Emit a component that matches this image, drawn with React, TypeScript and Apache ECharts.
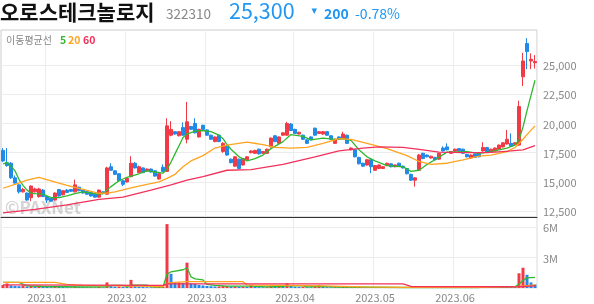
import React, { useEffect, useRef } from 'react';
import * as echarts from 'echarts';

// trading days per month (categories)
const monthDays: [string, number[]][] = [
  ['2022-12', [15, 16, 19, 20, 21, 22, 23, 26, 27, 28, 29]],
  ['2023-01', [2, 3, 4, 5, 6, 9, 10, 11, 12, 13, 16, 17, 18, 19, 20, 25, 26, 27, 30, 31]],
  ['2023-02', [1, 2, 3, 6, 7, 8, 9, 10, 13, 14, 15, 16, 17, 20, 21, 22, 23, 24, 27, 28]],
  ['2023-03', [2, 3, 6, 7, 8, 9, 10, 13, 14, 15, 16, 17, 20, 21, 22, 23, 24, 27, 28, 29, 30, 31]],
  ['2023-04', [3, 4, 5, 6, 7, 10, 11, 12, 13, 14, 17, 18, 19, 20, 21, 24, 25, 26, 27, 28]],
  ['2023-05', [2, 3, 4, 8, 9, 10, 11, 12, 15, 16, 17, 18, 19, 22, 23, 24, 25, 26, 30, 31]],
  ['2023-06', [1, 2, 5, 7, 8, 9, 12, 13, 14, 15, 16, 19, 20, 21, 22, 23, 26, 27, 28, 29, 30]],
];

// [open, close, low, high]
const candles: number[][] = [
  [17700, 16800, 16700, 17900], [16650, 16400, 16300, 17900], [16600, 15350, 15250, 16700], [15350, 14900, 14850, 15550],
  [14750, 14150, 14000, 14800], [14150, 14350, 14100, 14500], [14050, 13450, 13400, 14100], [13650, 14650, 13350, 14700],
  [14150, 14400, 14100, 14500], [13750, 14400, 13650, 14500], [14300, 13750, 13700, 14400], [13750, 13450, 13200, 13800],
  [13600, 13350, 13300, 13700], [13450, 14050, 13400, 14100], [14350, 13800, 13750, 14400], [13900, 14250, 13850, 14300],
  [14300, 14100, 14050, 14400], [14350, 14200, 14150, 14400], [14150, 14750, 14100, 15200], [14550, 14250, 14200, 14600],
  [14300, 14050, 14000, 14350], [14200, 13950, 13900, 14250], [14100, 13800, 13750, 14150], [13950, 13700, 13650, 14000],
  [13700, 14300, 13650, 14350], [14150, 14000, 13950, 14200], [13950, 16200, 13900, 16300], [16300, 16000, 15950, 16600],
  [15950, 15650, 15600, 16000], [15700, 15100, 15000, 15750], [15100, 14800, 14650, 15150], [15000, 15300, 14950, 15350],
  [15450, 16600, 15400, 17200], [16600, 16200, 16150, 16700], [15800, 16300, 15750, 16400], [16200, 15800, 15750, 16250],
  [15950, 16100, 15900, 16150], [16100, 15850, 15800, 16150], [15950, 15500, 15450, 16000], [15250, 15700, 15200, 15750],
  [16250, 15900, 15850, 16500], [15900, 19800, 15850, 20450], [19000, 19500, 18900, 20200], [19300, 19100, 19050, 19350],
  [18950, 19300, 18900, 19350], [19650, 19000, 18950, 20100], [18650, 20150, 18300, 21850], [19750, 19500, 19450, 19800],
  [20000, 19200, 19150, 20450], [18850, 19500, 18800, 19550], [19850, 19500, 19450, 19900], [19450, 19000, 18950, 19500],
  [19000, 18650, 18600, 19050], [18450, 18850, 18400, 18900], [19000, 18450, 18400, 19050], [17600, 18300, 17500, 18400],
  [18050, 17300, 17250, 18100], [16950, 16650, 16600, 17000], [16350, 17150, 16300, 17200], [16950, 16150, 16100, 17000],
  [16450, 17000, 16400, 17050], [16900, 17150, 16850, 17200], [17500, 17650, 17450, 17700], [17450, 17700, 17400, 17750],
  [17800, 17400, 17350, 17850], [17450, 17600, 17400, 17650], [17450, 17800, 17400, 17850], [18000, 18750, 17950, 18800],
  [18950, 18450, 18400, 19000], [18300, 18850, 18250, 18900], [19000, 19200, 18950, 19250], [19000, 20000, 18950, 20150],
  [19950, 19400, 19350, 20050], [19500, 19150, 19100, 19550], [19100, 19250, 19050, 19300], [19000, 18650, 18600, 19050],
  [18600, 18300, 18250, 18650], [18850, 18600, 18550, 18900], [19600, 19000, 18950, 19650], [19150, 19300, 19100, 19350],
  [19100, 19300, 19050, 19350], [19300, 19000, 18950, 19350], [18950, 18650, 18600, 19000], [18300, 18650, 18250, 18700],
  [18850, 18650, 18600, 18900], [18700, 19100, 18650, 19300], [19000, 18300, 18250, 19050], [17750, 17900, 17700, 17950],
  [17750, 17150, 17100, 17800], [17100, 16550, 16500, 17150], [16600, 16350, 16300, 16650], [16450, 16900, 16400, 16950],
  [16900, 16300, 15750, 16950], [16000, 16400, 15950, 16450], [16150, 16450, 16100, 16500], [16150, 16300, 16100, 16350],
  [16400, 16600, 16350, 16650], [16550, 16300, 16250, 16600], [16300, 16450, 16250, 16500], [16600, 16350, 16300, 16650],
  [16350, 16200, 16150, 16400], [16150, 15700, 15650, 16200], [15650, 15150, 15100, 15700], [15150, 15350, 14600, 15400],
  [16000, 17300, 15950, 17400], [17450, 17000, 16950, 17500], [17300, 17150, 17100, 17350], [17050, 17200, 17000, 17250],
  [17100, 16900, 16850, 17150], [16950, 17450, 16900, 17500], [17900, 17650, 17600, 18050], [18000, 17750, 17700, 18300],
  [17450, 17600, 17400, 17650], [17650, 17800, 17600, 17850], [17850, 17650, 17600, 17900], [17800, 17450, 17400, 17850],
  [17350, 17150, 17100, 17400], [17050, 17300, 17000, 17350], [17400, 17100, 17050, 17450], [17450, 17150, 17100, 17500],
  [17650, 17950, 17600, 18400], [17950, 17550, 17500, 18000], [17550, 17800, 17500, 17850], [17650, 17900, 17600, 17950],
  [17800, 18150, 17750, 18200], [18000, 18350, 17950, 18400], [18250, 18650, 18200, 19450], [18300, 18050, 18000, 19150],
  [18200, 18350, 18150, 18400], [18150, 21450, 18100, 21950], [24000, 25350, 23200, 26050], [26850, 26150, 24650, 27300],
  [25350, 25500, 24650, 26000], [25200, 25300, 24700, 25850],
];

// volume, millions of shares
const volumes: number[] = [
  0.3, 0.45, 0.25, 0.2, 0.18, 0.25, 0.15, 0.2, 0.12, 0.15, 0.12, 0.1, 0.08, 0.12, 0.1, 0.09, 0.07, 0.06, 0.12, 0.08,
  0.07, 0.06, 0.06, 0.05, 0.1, 0.05, 0.55, 0.25, 0.15, 0.15, 0.12, 0.1, 0.8, 0.2, 0.15, 0.12, 0.08, 0.07, 0.08, 0.1,
  0.12, 6.3, 1.4, 0.55, 0.55, 0.5, 2.5, 0.45, 0.4, 0.3, 0.25, 0.2, 0.18, 0.15, 0.15, 0.2, 0.2, 0.15, 0.15, 0.12,
  0.12, 0.1, 0.3, 0.1, 0.08, 0.07, 0.08, 0.2, 0.15, 0.15, 0.12, 0.45, 0.2, 0.12, 0.1, 0.1, 0.08, 0.07, 0.12, 0.3,
  0.1, 0.08, 0.07, 0.08, 0.06, 0.1, 0.1, 0.08, 0.1, 0.1, 0.07, 0.08, 0.08, 0.06, 0.05, 0.04, 0.05, 0.04, 0.04, 0.04,
  0.03, 0.05, 0.06, 0.07, 0.15, 0.08, 0.05, 0.04, 0.04, 0.06, 0.06, 0.05, 0.04, 0.04, 0.03, 0.04, 0.04, 0.03, 0.03, 0.04,
  0.18, 0.06, 0.04, 0.04, 0.05, 0.08, 0.15, 0.12, 0.1, 1.45, 2.0, 1.3, 0.55, 0.35,
];

// moving averages: [candle index, value]
const ma5: number[][] = [
  [0, 16550], [1, 16650], [2, 16350], [3, 15950], [4, 15200], [5, 14700], [6, 14300], [7, 14050], [8, 14000], [10, 13950],
  [12, 13650], [14, 13650], [16, 13800], [18, 14000], [20, 14150], [22, 14050], [24, 13950], [25, 14000], [26, 14300],
  [27, 14600], [29, 15100], [31, 15400], [34, 15700], [36, 15950], [38, 15850], [40, 15750], [41, 16100], [42, 16700],
  [43, 17400], [44, 18100], [45, 18800], [46, 19100], [48, 19350], [50, 19400], [52, 19300], [54, 19000], [55, 18700],
  [56, 18200], [57, 17800], [59, 17150], [61, 16800], [63, 17000], [65, 17300], [67, 17850], [70, 18450], [72, 19050],
  [75, 18900], [77, 18600], [80, 18750], [83, 18650], [85, 18700], [87, 18550], [89, 17750], [91, 17150], [93, 16800],
  [96, 16400], [100, 16300], [102, 15900], [104, 16000], [106, 16500], [108, 16900], [111, 17550], [116, 17600],
  [119, 17450], [122, 17600], [126, 17900], [128, 18150], [129, 18600], [130, 19700], [131, 21100], [132, 22400], [133, 23700],
];
const ma20: number[][] = [
  [0, 14460], [3, 14800], [6, 15150], [9, 15400], [12, 15100], [16, 14700], [20, 14370], [24, 14030], [26, 14050],
  [28, 14150], [32, 14500], [36, 14800], [39, 15000], [41, 15300], [43, 15650], [45, 16300], [47, 16800], [50, 17250],
  [53, 17900], [56, 18150], [61, 18400], [65, 18200], [68, 17950], [72, 17900], [76, 17950], [80, 18300], [84, 18700],
  [87, 18650], [91, 18300], [96, 17850], [101, 17250], [104, 16750], [107, 16500], [111, 16600], [115, 16880],
  [119, 17200], [122, 17300], [126, 17600], [128, 17950], [130, 18650], [131, 19050], [133, 19800],
];
const ma60: number[][] = [
  [0, 12350], [8, 12650], [16, 13030], [24, 13500], [30, 13700], [37, 14300], [42, 14750], [46, 15150], [50, 15450],
  [56, 16000], [62, 16050], [70, 16500], [78, 17150], [84, 17650], [90, 17900], [94, 18000], [100, 17950], [105, 17750],
  [109, 17550], [116, 17500], [121, 17500], [127, 17650], [130, 17750], [133, 18100],
];
const volMa5: number[][] = [
  [0, 0.55], [4, 0.55], [6, 0.2], [10, 0.15], [20, 0.1], [26, 0.12], [27, 0.25], [30, 0.25], [31, 0.12], [32, 0.28],
  [36, 0.28], [37, 0.12], [40, 0.1], [41, 1.35], [42, 1.6], [45, 1.8], [46, 2.0], [47, 1.1], [48, 0.9], [50, 0.8],
  [51, 0.35], [53, 0.25], [56, 0.18], [62, 0.18], [66, 0.12], [70, 0.15], [71, 0.22], [75, 0.2], [76, 0.12], [79, 0.16],
  [84, 0.1], [90, 0.08], [100, 0.05], [119, 0.05], [120, 0.08], [125, 0.1], [128, 0.12], [129, 0.4], [130, 0.75],
  [131, 1.0], [133, 1.05],
];
const volMa20: number[][] = [
  [0, 0.55], [13, 0.55], [16, 0.35], [20, 0.25], [30, 0.2], [40, 0.15], [41, 0.45], [42, 0.52], [46, 0.62], [60, 0.62],
  [61, 0.3], [70, 0.25], [80, 0.2], [90, 0.12], [100, 0.06], [120, 0.06], [129, 0.15], [133, 0.3],
];
const volMa60: number[][] = [
  [0, 0.3], [40, 0.25], [41, 0.4], [100, 0.4], [102, 0.15], [128, 0.12], [133, 0.2],
];

const priceTicks = [12500, 15000, 17500, 20000, 22500, 25000];
const volumeTicks = [3, 6];

const title = '오로스테크놀로지';
const code = '322310';
const lastPrice = '25,300';
const change = '200';
const changePct = '-0.78%';

const RED = '#f23a46';
const BLUE = '#2189e8';
const PRICE_BLUE = '#2196f3';
const C5 = '#2fb82f';
const C20 = '#ffa31f';
const C60 = '#f2305a';
const FONT = '"Noto Sans CJK KR", "Noto Sans", sans-serif';

export default function App() {
  const ref = useRef<HTMLDivElement>(null);
  useEffect(() => {
    if (!ref.current) return;
    const chart = echarts.init(ref.current, null, { renderer: 'svg' });
    const dates: string[] = [];
    monthDays.forEach(([m, days]) => days.forEach((d) => dates.push(`${m}-${String(d).padStart(2, '0')}`)));
    const monthStart = new Set<number>();
    dates.forEach((d, i) => {
      if (i > 0 && d.slice(0, 7) !== dates[i - 1].slice(0, 7)) monthStart.add(i);
    });
    const isStart = (i: number) => monthStart.has(i);
    const volData = volumes.map((v, i) => ({
      value: v,
      itemStyle: { color: i > 0 && v < volumes[i - 1] ? BLUE : RED },
    }));
    const lineS = (data: number[][], color: string, x: number, y: number) => ({
      type: 'line',
      data,
      xAxisIndex: x,
      yAxisIndex: y,
      symbol: 'none',
      silent: true,
      z: 5,
      lineStyle: { color, width: 1.3 },
    });
    const xBase = (gi: number, labels: boolean) => ({
      type: 'category',
      gridIndex: gi,
      data: dates,
      boundaryGap: true,
      axisLine: gi === 0 ? { show: true, lineStyle: { color: '#333', width: 1 } } : { show: false },
      axisTick: { show: false, interval: (i: number) => isStart(i) },
      axisLabel: labels
        ? {
            show: true,
            interval: (i: number) => isStart(i),
            formatter: (v: string) => v.slice(0, 7).replace('-', '.'),
            color: '#888',
            fontSize: 11,
            margin: 3,
            fontFamily: FONT,
          }
        : { show: false },
      splitLine: { show: true, interval: (i: number) => isStart(i), lineStyle: { color: '#ececec' } },
    });
    const head = (text: string, x: number, y: number, size: number, fill: string, weight = 'normal') => ({
      type: 'text',
      x,
      y,
      z: 10,
      style: { text, fontFamily: FONT, fontSize: size, fontWeight: weight, lineHeight: size, fill, verticalAlign: 'middle' },
    });
    chart.setOption({
      animation: false,
      grid: [
        { left: 1, right: 57, top: 30, height: 187, show: true, borderColor: '#ccc', borderWidth: 1 },
        { left: 1, right: 57, top: 217, height: 71, show: true, borderColor: '#ddd', borderWidth: 1 },
      ],
      xAxis: [xBase(0, false), xBase(1, true)],
      yAxis: [
        {
          type: 'value',
          gridIndex: 0,
          position: 'right',
          min: 12000,
          max: 28000,
          axisLine: { show: false },
          axisTick: { show: false, customValues: priceTicks },
          axisLabel: {
            customValues: priceTicks,
            color: '#888',
            fontSize: 11,
            margin: 6,
            fontFamily: FONT,
            formatter: (v: number) => v.toLocaleString('en-US'),
          },
          splitLine: { show: true, lineStyle: { color: '#ececec' } },
        },
        {
          type: 'value',
          gridIndex: 1,
          position: 'right',
          min: 0,
          max: 7,
          axisLine: { show: false },
          axisTick: { show: false, customValues: volumeTicks },
          axisLabel: {
            customValues: volumeTicks,
            color: '#888',
            fontSize: 11,
            margin: 6,
            fontFamily: FONT,
            formatter: (v: number) => `${v}M`,
          },
          splitLine: { show: true, lineStyle: { color: '#ececec' } },
        },
      ],
      graphic: [
        head(title, 0, 10.5, 21, '#111', 'bold'),
        head(code, 166, 12.5, 13.5, '#888'),
        head(lastPrice, 229, 9.5, 21.5, PRICE_BLUE),
        { type: 'polygon', z: 10, shape: { points: [[311.5, 8.5], [317, 8.5], [314.25, 14]] }, style: { fill: PRICE_BLUE } },
        head(change, 324, 12.5, 14, PRICE_BLUE, 'bold'),
        head(changePct, 355, 12.5, 14, PRICE_BLUE),
        head('이동평균선', 6, 39.5, 10, '#888'),
        head('5', 60, 39.5, 10.5, C5, 'bold'),
        head('20', 68, 39.5, 10.5, C20, 'bold'),
        head('60', 83, 39.5, 10.5, C60, 'bold'),
        { type: 'text', x: 5, y: 206, z: 1, style: { text: '©PAXNet', font: `bold 17px ${FONT}`, fill: 'rgba(170,170,170,0.5)', verticalAlign: 'middle' } },
      ],
      series: [
        {
          type: 'candlestick',
          xAxisIndex: 0,
          yAxisIndex: 0,
          data: candles,
          barWidth: 3,
          z: 3,
          itemStyle: { color: RED, color0: BLUE, borderColor: RED, borderColor0: BLUE, borderWidth: 1 },
        },
        lineS(ma5, C5, 0, 0),
        lineS(ma20, C20, 0, 0),
        lineS(ma60, C60, 0, 0),
        { type: 'bar', xAxisIndex: 1, yAxisIndex: 1, data: volData, barWidth: 3, z: 3 },
        lineS(volMa5, C5, 1, 1),
        lineS(volMa20, C20, 1, 1),
        lineS(volMa60, C60, 1, 1),
      ],
    });
    return () => chart.dispose();
  }, []);
  return <div ref={ref} style={{ position: 'fixed', left: 0, top: 0, width: 594, height: 304 }} />;
}
